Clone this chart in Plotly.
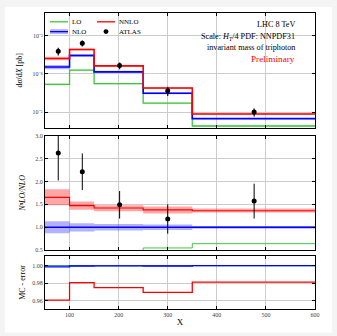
import plotly.graph_objects as go
import numpy as np

# ---------------- data ----------------
edges = [50, 100, 150, 250, 350, 600]
lo = [5.3e-5, 1.24e-4, 5.5e-5, 1.7e-5, 4.3e-6]
nlo = [1.5e-4, 3.0e-4, 1.12e-4, 3.1e-5, 6.7e-6]
nnlo = [2.5e-4, 4.3e-4, 1.61e-4, 4.25e-5, 8.9e-6]

lo_rel_band = [0.05, 0.04, 0.04, 0.04, 0.04]
nlo_ratio_lo = [0.87, 0.91, 0.93, 0.94, 0.97]
nlo_ratio_hi = [1.13, 1.09, 1.07, 1.06, 1.03]
nnlo_ratio = [1.65, 1.47, 1.42, 1.38, 1.36]
nnlo_ratio_lo = [1.48, 1.38, 1.35, 1.30, 1.32]
nnlo_ratio_hi = [1.83, 1.56, 1.48, 1.45, 1.41]

atlas_x = [77, 126, 202, 300, 476]
atlas_y = [3.9e-4, 6.3e-4, 1.65e-4, 3.6e-5, 1.0e-5]
atlas_ratio = [2.62, 2.21, 1.49, 1.18, 1.57]
atlas_ratio_err = [0.6, 0.4, 0.3, 0.32, 0.38]

mc_lo = [1.0, 1.0, 1.0, 1.0, 1.0]
mc_nlo = [0.9985, 0.9996, 0.9998, 0.9996, 1.0]
mc_nnlo = [0.9607, 0.9807, 0.975, 0.9696, 0.9812]

ytick_top = [1e-5, 1e-4, 1e-3]
ytick_top_text = ["10⁻⁵", "10⁻⁴", "10⁻³"]

RED = "#ff0000"
BLUE = "#0000ff"
GREEN = "#3cc83c"
FONT = "Liberation Serif"

def step(vals):
    return list(vals) + [vals[-1]]

def band(fig, lo_v, hi_v, color, xa, ya):
    fig.add_trace(go.Scatter(x=edges, y=step(lo_v), mode="lines", line=dict(width=0, shape="hv"),
                             showlegend=False, hoverinfo="skip", xaxis=xa, yaxis=ya))
    fig.add_trace(go.Scatter(x=edges, y=step(hi_v), mode="lines", line=dict(width=0, shape="hv"),
                             fill="tonexty", fillcolor=color, showlegend=False, hoverinfo="skip",
                             xaxis=xa, yaxis=ya))

def line(fig, vals, color, width, xa, ya):
    fig.add_trace(go.Scatter(x=edges, y=step(vals), mode="lines",
                             line=dict(color=color, width=width, shape="hv"),
                             showlegend=False, hoverinfo="skip", xaxis=xa, yaxis=ya))

fig = go.Figure()

nlo_a = np.array(nlo)
nnlo_a = np.array(nnlo)
lo_a = np.array(lo)
nr = np.array(nnlo_ratio)

# ---- top panel ----
band(fig, lo_a * (1 - np.array(lo_rel_band)), lo_a * (1 + np.array(lo_rel_band)), "rgba(60,200,60,0.3)", "x", "y")
band(fig, nlo_a * np.array(nlo_ratio_lo), nlo_a * np.array(nlo_ratio_hi), "rgba(0,0,255,0.3)", "x", "y")
band(fig, nnlo_a * np.array(nnlo_ratio_lo) / nr, nnlo_a * np.array(nnlo_ratio_hi) / nr, "rgba(255,0,0,0.3)", "x", "y")
line(fig, lo, GREEN, 1.3, "x", "y")
line(fig, nlo, BLUE, 1.6, "x", "y")
line(fig, nnlo, RED, 1.6, "x", "y")
atlas_rel = np.array(atlas_ratio_err) / np.array(atlas_ratio)
fig.add_trace(go.Scatter(x=atlas_x, y=atlas_y, mode="markers",
                         marker=dict(color="black", size=5),
                         error_y=dict(type="data", array=list(np.array(atlas_y) * atlas_rel),
                                      color="black", thickness=1.2, width=0),
                         showlegend=False, xaxis="x", yaxis="y"))

# ---- ratio panel ----
band(fig, nlo_ratio_lo, nlo_ratio_hi, "rgba(0,0,255,0.3)", "x2", "y2")
band(fig, nnlo_ratio_lo, nnlo_ratio_hi, "rgba(255,0,0,0.35)", "x2", "y2")
line(fig, list(lo_a / nlo_a), GREEN, 1.0, "x2", "y2")
line(fig, [1.0] * 5, BLUE, 1.3, "x2", "y2")
line(fig, nnlo_ratio, RED, 1.2, "x2", "y2")
fig.add_trace(go.Scatter(x=atlas_x, y=atlas_ratio, mode="markers",
                         marker=dict(color="black", size=5),
                         error_y=dict(type="data", array=atlas_ratio_err, color="black", thickness=1.0, width=0),
                         showlegend=False, xaxis="x2", yaxis="y2", cliponaxis=True))

# ---- MC error panel ----
line(fig, mc_lo, "#3a9a7a", 1.3, "x3", "y3")
line(fig, mc_nlo, BLUE, 1.3, "x3", "y3")
line(fig, mc_nnlo, RED, 1.3, "x3", "y3")

tickfont = dict(family=FONT, size=6, color="#444")
common_x = dict(range=[50, 600], showgrid=True, gridcolor="#cccccc", gridwidth=1.2,
                tickvals=[100, 200, 300, 400, 500, 600], ticks="inside", ticklen=3,
                tickcolor="black", showline=True, linecolor="black", linewidth=1.2, mirror="ticks",
                zeroline=False, tickfont=tickfont)
common_y = dict(showgrid=True, gridcolor="#cccccc", gridwidth=1.2, ticks="inside", ticklen=3,
                tickcolor="black", showline=True, linecolor="black", linewidth=1.2, mirror="ticks",
                zeroline=False, tickfont=tickfont)

fig.update_layout(
    width=337, height=336,
    margin=dict(l=45, r=22, t=10, b=24),
    paper_bgcolor="#f4f4f4", plot_bgcolor="white",
    font=dict(family=FONT, color="black"),
    showlegend=False,
    xaxis=dict(common_x, domain=[0, 1], anchor="y", showticklabels=False),
    yaxis=dict(common_y, type="log", range=[-5.41, -2.41], domain=[0.6126, 1.0], anchor="x",
               tickvals=ytick_top, ticktext=ytick_top_text,
               title=dict(text="d<i>σ</i>/d<i>X</i> [pb]", font=dict(size=8), standoff=8)),
    xaxis2=dict(common_x, domain=[0, 1], anchor="y2", showticklabels=False, matches="x"),
    yaxis2=dict(common_y, range=[0.5, 3.0], domain=[0.1987, 0.586], anchor="x2",
                tickvals=[0.5, 1.0, 1.5, 2.0, 2.5, 3.0], tickformat=".1f",
                title=dict(text="<i>NⁿLO/NLO</i>", font=dict(size=8), standoff=8)),
    xaxis3=dict(common_x, domain=[0, 1], anchor="y3", matches="x",
                title=dict(text="X", font=dict(size=9), standoff=1)),
    yaxis3=dict(common_y, range=[0.9505, 1.011], domain=[0, 0.179], anchor="x3",
                tickvals=[0.96, 0.98, 1.00], tickformat=".2f",
                title=dict(text="MC - error", font=dict(size=8), standoff=5)),
)

# white page area (light gray frame at left/top/right edge)
fig.add_shape(type="rect", xref="paper", yref="paper", x0=(5 - 45) / 270, x1=(332 - 45) / 270,
              y0=(312 - 336) / 302, y1=(312 - 4) / 302, fillcolor="white", line=dict(width=0),
              layer="below")

# ---- legend (manual) ----
def xd(px):
    return (px - 45) / 270

def yd(py):
    return (127 - py) / 117

leg = [("LO", GREEN, 50, 19, "line"), ("NNLO", RED, 97, 19, "line"),
       ("NLO", BLUE, 50, 29, "band"), ("ATLAS", "black", 97, 29, "dot")]
for name, col, px, py, kind in leg:
    if kind == "line":
        fig.add_shape(type="line", xref="x domain", yref="y domain", x0=xd(px), x1=xd(px + 18),
                      y0=yd(py), y1=yd(py), line=dict(color=col, width=1.3))
    elif kind == "band":
        fig.add_shape(type="rect", xref="x domain", yref="y domain", x0=xd(px), x1=xd(px + 18),
                      y0=yd(py + 2.5), y1=yd(py - 2.5), fillcolor="rgba(0,0,255,0.3)", line=dict(width=0))
        fig.add_shape(type="line", xref="x domain", yref="y domain", x0=xd(px), x1=xd(px + 18),
                      y0=yd(py), y1=yd(py), line=dict(color=col, width=1.3))
    else:
        fig.add_shape(type="circle", xref="x domain", yref="y domain", x0=xd(px + 6.5), x1=xd(px + 11.5),
                      y0=yd(py + 2.5), y1=yd(py - 2.5), fillcolor="black", line=dict(width=0))
    fig.add_annotation(xref="x domain", yref="y domain", x=xd(px + 20), y=yd(py), text=name,
                       showarrow=False, xanchor="left", yanchor="middle",
                       font=dict(family=FONT, size=7, color="black"))

info = [("LHC 8 TeV", 22, "black", 8.2), ("Scale: <i>H<sub>T</sub></i>/4 PDF: NNPDF31", 34, "black", 8.2),
        ("invariant mass of triphoton", 45, "black", 8.2), ("Preliminary", 57, RED, 9.2)]
for txt, py, col, sz in info:
    fig.add_annotation(xref="x domain", yref="y domain", x=xd(297), y=yd(py), text=txt,
                       showarrow=False, xanchor="right", yanchor="middle",
                       font=dict(family=FONT, size=sz, color=col))

fig.write_html("out.html")
